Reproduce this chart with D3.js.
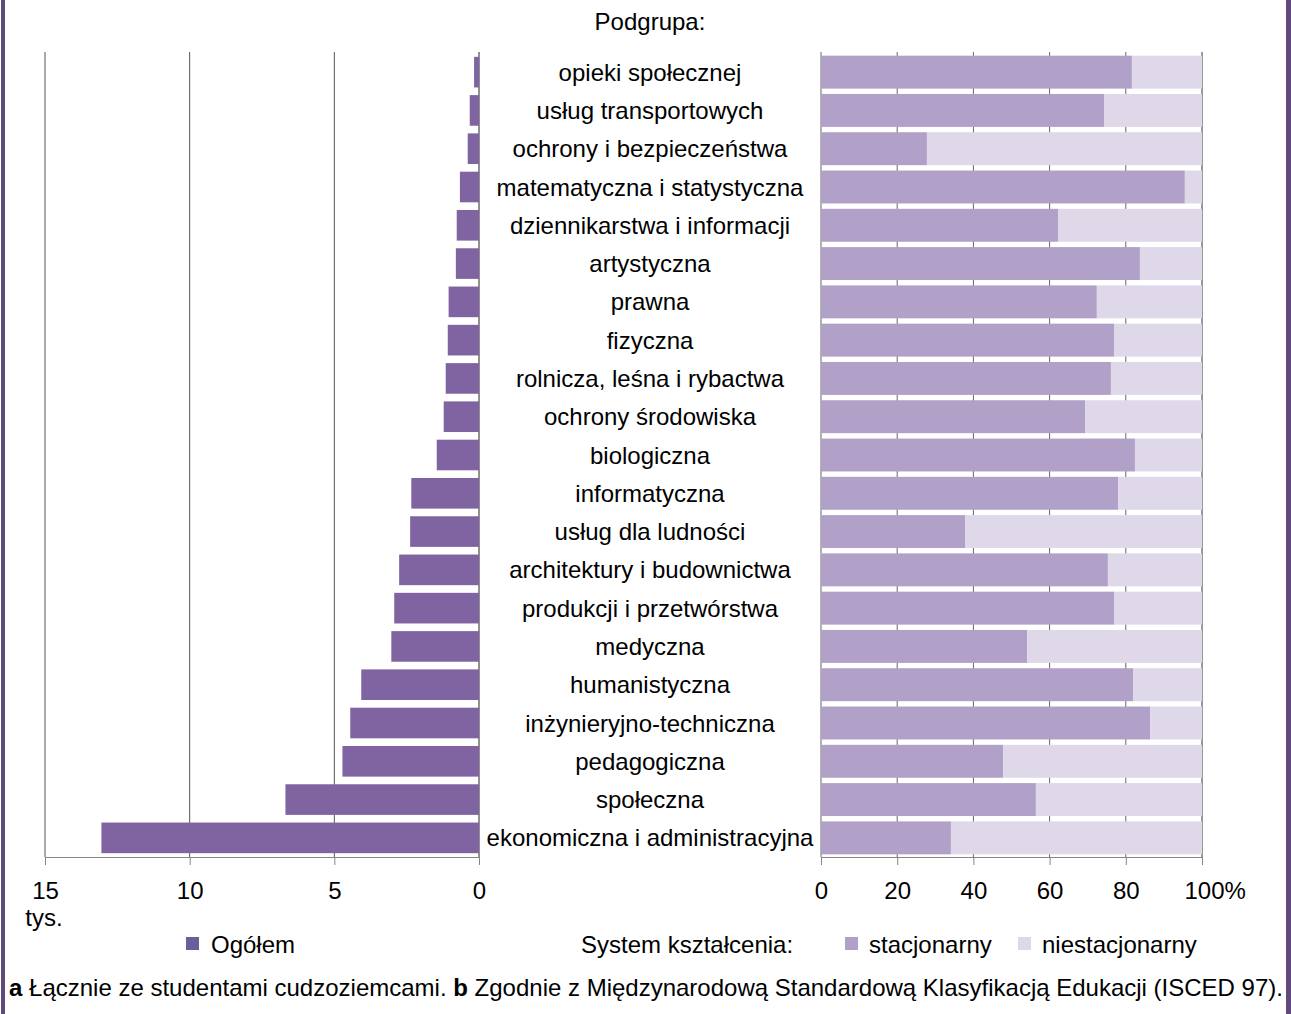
<!DOCTYPE html>
<html>
<head>
<meta charset="utf-8">
<script src="https://cdn.jsdelivr.net/npm/d3@7"></script>
<style>
  body { margin: 0; background: #fff; }
  svg { display: block; font-family: "Liberation Sans", Arial, sans-serif; }
  .label { font-size: 24px; fill: #000; }
</style>
</head>
<body>
<svg id="chart"></svg>
<script>
const categories = [
  "opieki społecznej",
  "usług transportowych",
  "ochrony i bezpieczeństwa",
  "matematyczna i statystyczna",
  "dziennikarstwa i informacji",
  "artystyczna",
  "prawna",
  "fizyczna",
  "rolnicza, leśna i rybactwa",
  "ochrony środowiska",
  "biologiczna",
  "informatyczna",
  "usług dla ludności",
  "architektury i budownictwa",
  "produkcji i przetwórstwa",
  "medyczna",
  "humanistyczna",
  "inżynieryjno-techniczna",
  "pedagogiczna",
  "społeczna",
  "ekonomiczna i administracyjna",
];

// ogółem, tys.
const totals = [
  0.17, 0.32, 0.39, 0.66, 0.77, 0.8, 1.05, 1.08, 1.15, 1.22, 1.46,
  2.34, 2.38, 2.76, 2.93, 3.03, 4.07, 4.45, 4.72, 6.69, 13.05,
];

// % stacjonarny / niestacjonarny
const stationary = [
  81.6, 74.3, 27.8, 95.5, 62.2, 83.7, 72.4, 76.9, 76.1, 69.3, 82.4,
  78.0, 37.8, 75.3, 76.9, 54.1, 81.9, 86.4, 47.8, 56.4, 34.1,
];
const nonStationary = [
  18.4, 25.7, 72.2, 4.5, 37.8, 16.3, 27.6, 23.1, 23.9, 30.7, 17.6,
  22.0, 62.2, 24.7, 23.1, 45.9, 18.1, 13.6, 52.2, 43.6, 65.9,
];

const leftTicks = [15, 10, 5, 0];
const rightTicks = [0, 20, 40, 60, 80, 100];

const colTotal = "#8064a2";
const colStac = "#b1a0c7";
const colNiestac = "#dfd8e8";

const svgWidth = 1291;
const svgHeight = 1014;
const plotTop = 53;
const plotBottom = 857;

const svg = d3.select("#chart").attr("width", svgWidth).attr("height", svgHeight);

// frame
svg.append("rect").attr("x", 1).attr("y", 0).attr("width", 4).attr("height", svgHeight).attr("fill", "#604a7b");
svg.append("rect").attr("x", 1286).attr("y", 0).attr("width", 5).attr("height", svgHeight).attr("fill", "#604a7b");

const yScale = d3.scaleBand().domain(categories).range([plotTop, plotBottom]);

// left chart: ogółem
const xLeft = d3.scaleLinear().domain([0, 15]).range([479, 45]);

const left = svg.append("g");
left
  .selectAll(".grid")
  .data(leftTicks)
  .join("line")
  .attr("x1", (d) => xLeft(d))
  .attr("x2", (d) => xLeft(d))
  .attr("y1", plotTop - 1)
  .attr("y2", plotBottom)
  .attr("stroke", (d) => (d === 0 ? "#222" : "#555"))
  .attr("stroke-width", 1);

const leftBand = yScale.step() * 0.8;
left
  .selectAll(".bar")
  .data(categories)
  .join("rect")
  .attr("x", (d, i) => xLeft(totals[i]))
  .attr("y", (d) => yScale(d) + (yScale.step() - leftBand) / 2)
  .attr("width", (d, i) => xLeft(0) - xLeft(totals[i]))
  .attr("height", leftBand)
  .attr("fill", colTotal);

const leftAxis = left
  .append("g")
  .attr("transform", `translate(0, ${plotBottom})`)
  .call(d3.axisBottom(xLeft).tickValues(leftTicks).tickSize(8).tickPadding(17));
leftAxis.select(".domain").attr("stroke", "#868686");
leftAxis.selectAll(".tick line").attr("stroke", "#868686");
leftAxis.selectAll("text").attr("class", "label").attr("font-family", null).attr("font-size", null);

svg.append("text").attr("class", "label").attr("x", 44).attr("y", 926).attr("text-anchor", "middle").text("tys.");

// category labels
svg.append("text").attr("class", "label").attr("x", 650).attr("y", 30).attr("text-anchor", "middle").text("Podgrupa:");
svg
  .selectAll(".cat")
  .data(categories)
  .join("text")
  .attr("class", "label")
  .attr("x", 650)
  .attr("y", (d) => yScale(d) + yScale.step() / 2)
  .attr("dy", "0.36em")
  .attr("text-anchor", "middle")
  .text((d) => d);

// right chart: system kształcenia
const xRight = d3.scaleLinear().domain([0, 100]).range([821, 1202]);
const right = svg.append("g");

right
  .selectAll(".grid")
  .data(rightTicks)
  .join("line")
  .attr("x1", (d) => xRight(d))
  .attr("x2", (d) => xRight(d))
  .attr("y1", plotTop - 1)
  .attr("y2", plotBottom)
  .attr("stroke", (d) => (d === 100 ? "#333" : "#666"))
  .attr("stroke-width", 1);

const stackData = categories.map((c, i) => ({ cat: c, stac: stationary[i], niestac: nonStationary[i] }));
const stacked = d3.stack().keys(["stac", "niestac"])(stackData);
const stackColors = { stac: colStac, niestac: colNiestac };
const rightBand = yScale.step() * 0.86;

right
  .selectAll(".series")
  .data(stacked)
  .join("g")
  .attr("fill", (s) => stackColors[s.key])
  .selectAll("rect")
  .data((s) => s)
  .join("rect")
  .attr("x", (d) => xRight(d[0]))
  .attr("y", (d) => yScale(d.data.cat) + (yScale.step() - rightBand) / 2)
  .attr("width", (d) => xRight(Math.min(d[1], 100)) - xRight(d[0]))
  .attr("height", rightBand);

const rightAxis = right
  .append("g")
  .attr("transform", `translate(0, ${plotBottom})`)
  .call(
    d3.axisBottom(xRight)
      .tickValues(rightTicks)
      .tickSize(8)
      .tickPadding(17)
      .tickFormat((d) => (d === 100 ? "100%" : d))
  );
rightAxis.select(".domain").attr("stroke", "#868686");
rightAxis.selectAll(".tick line").attr("stroke", "#868686");
rightAxis.selectAll("text").attr("class", "label").attr("font-family", null).attr("font-size", null);
rightAxis
  .selectAll(".tick text")
  .filter((d) => d === 100)
  .attr("text-anchor", "start")
  .attr("x", -18);

// legend
const legendY = 953;
svg.append("rect").attr("x", 186).attr("y", legendY - 16).attr("width", 13).attr("height", 13).attr("fill", "#6a5f9a");
svg.append("text").attr("class", "label").attr("x", 211).attr("y", legendY).text("Ogółem");
svg.append("text").attr("class", "label").attr("x", 581).attr("y", legendY).text("System kształcenia:");
svg.append("rect").attr("x", 845).attr("y", legendY - 16).attr("width", 13).attr("height", 13).attr("fill", colStac);
svg.append("text").attr("class", "label").attr("x", 869).attr("y", legendY).text("stacjonarny");
svg.append("rect").attr("x", 1018).attr("y", legendY - 16).attr("width", 13).attr("height", 13).attr("fill", colNiestac);
svg.append("text").attr("class", "label").attr("x", 1042).attr("y", legendY).text("niestacjonarny");

// footnote
const note = svg.append("text").attr("class", "label").attr("x", 9).attr("y", 996);
note.append("tspan").attr("font-weight", "bold").text("a");
note.append("tspan").text(" Łącznie ze studentami cudzoziemcami. ");
note.append("tspan").attr("font-weight", "bold").text("b");
note.append("tspan").text(" Zgodnie z Międzynarodową Standardową Klasyfikacją Edukacji (ISCED 97).");
</script>
</body>
</html>
